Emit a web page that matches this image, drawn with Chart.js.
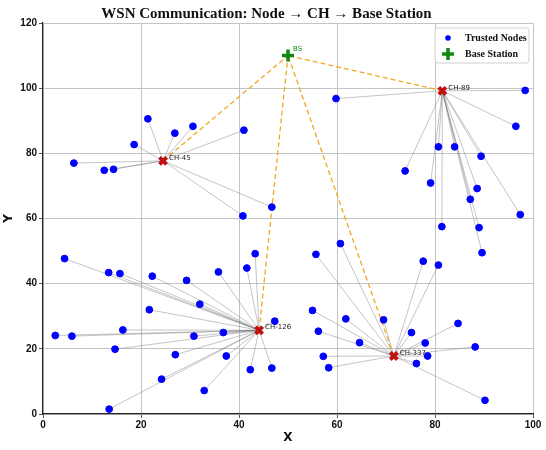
<!DOCTYPE html>
<html>
<head>
<meta charset="utf-8">
<script src="https://cdn.jsdelivr.net/npm/chart.js@4.4.1/dist/chart.umd.min.js"></script>
<style>
  html, body { margin: 0; padding: 0; background: #fff; }
</style>
</head>
<body>
<canvas id="wsnChart" width="546" height="450"></canvas>
<script>
// cluster heads
const chNames = ['CH-45', 'CH-89', 'CH-126', 'CH-337'];
const chX = [24.5, 81.5, 44.1, 71.6];
const chY = [77.7, 99.2, 25.7, 17.8];

// base station
const bsX = [50];
const bsY = [110];

// trusted nodes and the CH each one reports to (index into chNames)
const nodeX = [
  6.3, 12.5, 14.4, 18.6, 21.4, 26.9, 30.6, 41.0, 40.8, 46.7,
  59.8, 98.4, 96.5, 80.7, 84.0, 89.4, 73.9, 79.1, 88.6, 87.2, 97.4, 81.4, 89.0, 89.6,
  4.4, 13.4, 15.7, 22.3, 29.3, 35.8, 41.6, 43.3, 32.0, 21.7, 47.3, 16.3, 2.5, 5.9, 30.8, 36.8, 14.7, 27.0, 37.4, 42.3, 46.7, 24.2, 32.9, 13.5,
  60.7, 55.7, 77.6, 80.7, 55.0, 61.8, 69.5, 56.2, 75.2, 84.7, 64.6, 78.0, 88.2, 57.2, 78.5, 58.3, 76.2, 90.2
];
const nodeY = [
  77.0, 74.8, 75.1, 82.7, 90.6, 86.2, 88.3, 87.1, 60.8, 63.5,
  96.8, 99.3, 88.3, 82.0, 82.0, 79.1, 74.6, 70.9, 69.2, 65.9, 61.2, 57.5, 57.2, 49.5,
  47.7, 43.4, 43.1, 42.3, 41.0, 43.6, 44.8, 49.2, 33.7, 32.0, 28.5, 25.8, 24.1, 23.9, 23.9, 25.0, 19.9, 18.2, 17.8, 13.6, 14.1, 10.7, 7.2, 1.5,
  52.3, 49.0, 46.9, 45.7, 31.8, 29.2, 28.9, 25.4, 25.0, 27.8, 21.9, 21.8, 20.6, 17.7, 17.8, 14.2, 15.5, 4.2
];
const nodeCh = [
  0, 0, 0, 0, 0, 0, 0, 0, 0, 0,
  1, 1, 1, 1, 1, 1, 1, 1, 1, 1, 1, 1, 1, 1,
  2, 2, 2, 2, 2, 2, 2, 2, 2, 2, 2, 2, 2, 2, 2, 2, 2, 2, 2, 2, 2, 2, 2, 2,
  3, 3, 3, 3, 3, 3, 3, 3, 3, 3, 3, 3, 3, 3, 3, 3, 3, 3
];

const xTicks = [0, 20, 40, 60, 80, 100];
const yTicks = [0, 20, 40, 60, 80, 100, 120];

const ctx = document.getElementById('wsnChart');

// node -> CH links
const nodeLinks = nodeX.map((x, i) => ({
  label: 'link',
  showLine: true,
  data: [{ x: x, y: nodeY[i] }, { x: chX[nodeCh[i]], y: chY[nodeCh[i]] }],
  borderColor: 'rgba(110,110,110,0.5)',
  borderWidth: 0.8,
  pointRadius: 0,
  order: 6
}));

// CH -> BS links
const bsLinks = chX.map((x, i) => ({
  label: 'bslink',
  showLine: true,
  data: [{ x: x, y: chY[i] }, { x: bsX[0], y: bsY[0] }],
  borderColor: '#f5a623',
  borderDash: [5, 3],
  borderWidth: 1.3,
  pointRadius: 0,
  order: 5
}));

const nodeSet = {
  label: 'Trusted Nodes',
  data: nodeX.map((x, i) => ({ x: x, y: nodeY[i] })),
  backgroundColor: '#0000ff',
  borderColor: '#0000ff',
  pointRadius: 3.4,
  order: 3
};

const chSet = {
  label: 'Cluster Heads',
  data: chX.map((x, i) => ({ x: x, y: chY[i] })),
  pointStyle: 'crossRot',
  borderColor: '#c01010',
  borderWidth: 3.8,
  pointRadius: 5,
  order: 2
};

const bsSet = {
  label: 'Base Station',
  data: bsX.map((x, i) => ({ x: x, y: bsY[i] })),
  pointStyle: 'cross',
  borderColor: '#118811',
  borderWidth: 3.5,
  pointRadius: 6,
  order: 1
};

// small text next to CHs and BS
const markLabels = {
  id: 'markLabels',
  afterDatasetsDraw(chart) {
    const c = chart.ctx;
    const xs = chart.scales.x;
    const ys = chart.scales.y;
    c.save();
    c.font = '7px "DejaVu Sans"';
    c.textBaseline = 'middle';
    c.fillStyle = '#222';
    chNames.forEach((name, i) => {
      c.fillText(name, xs.getPixelForValue(chX[i]) + 6, ys.getPixelForValue(chY[i]) - 3);
    });
    c.fillStyle = '#118811';
    c.fillText('BS', xs.getPixelForValue(bsX[0]) + 5, ys.getPixelForValue(bsY[0]) - 6);
    c.restore();
  }
};

// legend box in the upper right of the plot
const cornerLegend = {
  id: 'cornerLegend',
  afterDraw(chart) {
    const c = chart.ctx;
    const area = chart.chartArea;
    const bx = area.right - 98, by = area.top + 5, bw = 94, bh = 35;
    c.save();
    c.fillStyle = 'rgba(255,255,255,0.85)';
    c.strokeStyle = '#d0d0d0';
    c.lineWidth = 1;
    c.beginPath();
    c.roundRect(bx, by, bw, bh, 3);
    c.fill();
    c.stroke();

    c.fillStyle = '#0000ff';
    c.beginPath();
    c.arc(bx + 13, by + 10, 2.8, 0, Math.PI * 2);
    c.fill();

    c.strokeStyle = '#118811';
    c.lineWidth = 3.5;
    c.beginPath();
    c.moveTo(bx + 7, by + 26); c.lineTo(bx + 19, by + 26);
    c.moveTo(bx + 13, by + 20); c.lineTo(bx + 13, by + 32);
    c.stroke();

    c.fillStyle = '#111';
    c.font = 'bold 10px "Liberation Serif"';
    c.textBaseline = 'middle';
    c.fillText('Trusted Nodes', bx + 30, by + 10);
    c.fillText('Base Station', bx + 30, by + 26);
    c.restore();
  }
};

const tickFont = { family: 'Liberation Sans', size: 10, weight: 'bold' };

new Chart(ctx, {
  type: 'scatter',
  data: { datasets: [...nodeLinks, ...bsLinks, nodeSet, chSet, bsSet] },
  options: {
    responsive: false,
    animation: false,
    layout: { padding: { top: 0, right: 13, left: 0, bottom: 0 } },
    plugins: {
      legend: { display: false },
      tooltip: { enabled: false },
      title: {
        display: true,
        text: 'WSN Communication: Node \u2192 CH \u2192 Base Station',
        color: '#111',
        font: { family: 'Liberation Serif', size: 15, weight: 'bold' },
        padding: { top: 5, bottom: 0 }
      }
    },
    scales: {
      x: {
        min: 0, max: 100,
        afterBuildTicks: axis => { axis.ticks = xTicks.map(v => ({ value: v })); },
        afterFit: axis => { axis.height = 36; },
        ticks: { font: tickFont, color: '#111', padding: 1, maxRotation: 0 },
        grid: { color: '#c4c4c4', lineWidth: 1, tickLength: 4, tickColor: '#555' },
        border: { color: '#222', width: 1.2 },
        title: { display: true, text: 'X', color: '#111', font: { family: 'DejaVu Sans', size: 12, weight: 'bold' }, padding: { top: 2, bottom: 5 } }
      },
      y: {
        min: 0, max: 120,
        afterBuildTicks: axis => { axis.ticks = yTicks.map(v => ({ value: v })); },
        afterFit: axis => { axis.width = 43; },
        ticks: { font: tickFont, color: '#111', padding: 2 },
        grid: { color: '#c4c4c4', lineWidth: 1, tickLength: 4, tickColor: '#555' },
        border: { color: '#222', width: 1.2 },
        title: { display: true, text: 'Y', color: '#111', font: { family: 'DejaVu Sans', size: 12, weight: 'bold' }, padding: { top: 2, bottom: 2 } }
      }
    }
  },
  plugins: [markLabels, cornerLegend]
});
</script>
</body>
</html>
